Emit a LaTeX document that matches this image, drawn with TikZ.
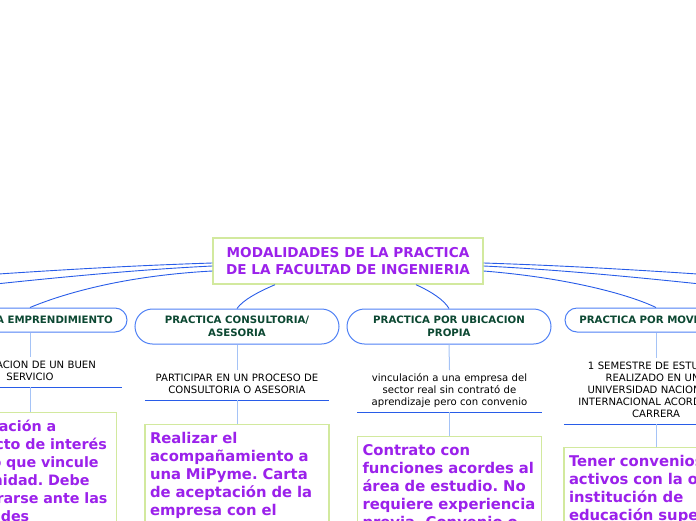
\documentclass[tikz,border=0pt]{standalone}
\usepackage{fontspec}
\setmainfont{DejaVu Sans}
\usetikzlibrary{shapes.misc}
\frenchspacing
\definecolor{linkblue}{RGB}{40,92,232}
\definecolor{rimblue}{RGB}{78,128,245}
\definecolor{stemblue}{RGB}{165,195,246}
\definecolor{leafgreen}{RGB}{210,233,158}
\definecolor{deepgreen}{RGB}{12,72,50}
\definecolor{plum}{RGB}{155,33,235}
\begin{document}
\begin{tikzpicture}[x=1pt, y=-1pt,
  hub/.style={draw=leafgreen, line width=1.4pt, fill=white, text=plum, align=center, font=\bfseries\fontsize{13.6}{17}\selectfont, minimum width=270pt, minimum height=46pt, inner sep=0pt},
  topic/.style={rounded rectangle, draw=rimblue, line width=1pt, fill=white, text=deepgreen, align=center, font=\bfseries\fontsize{10.2}{13}\selectfont, inner sep=0pt},
  detail/.style={anchor=north, align=center, text width=184pt, inner xsep=0pt, inner ysep=3pt, font=\fontsize{10.1}{12}\selectfont, execute at begin node=\strut, execute at end node=\strut},
  leaf/.style={draw=leafgreen, line width=1.4pt, fill=white, text=plum, align=left, font=\bfseries\fontsize{14.8}{18}\selectfont, inner xsep=5pt, inner ysep=6pt, execute at begin node=\strut, execute at end node=\strut},
  link/.style={draw=linkblue, line width=0.9pt},
  stem/.style={draw=stemblue, line width=1pt},
  rule/.style={draw=linkblue, line width=1.6pt}]
  \useasboundingbox (0,0) rectangle (696,520);
  \clip (0,0) rectangle (696,520);
  % centro
  \node[hub] (hub) at (348,261) {MODALIDADES DE LA PRACTICA\\DE LA FACULTAD DE INGENIERIA};
  % ramas
  \node[topic, minimum width=194pt, minimum height=24pt] (t1) at (30,320) {PRACTICA EMPRENDIMIENTO};
  \node[topic, minimum width=204pt, minimum height=35pt] (t2) at (237,326.5) {PRACTICA CONSULTORIA/\\ASESORIA};
  \node[topic, minimum width=204pt, minimum height=35pt] (t3) at (449,326.5) {PRACTICA POR UBICACION\\PROPIA};
  \node[topic, minimum width=182pt, minimum height=24pt] (t4) at (656,320) {PRACTICA POR MOVILIDAD};
  \coordinate (offL1) at (-60,278); \coordinate (offL2) at (-60,290);
  \coordinate (offR1) at (756,278); \coordinate (offR2) at (756,290);
  \draw[link] ([yshift=-2pt]hub.west) .. controls (120,266) and (40,271) .. (offL1);
  \draw[link] ([yshift=-5pt]hub.west) .. controls (130,270) and (40,279) .. (offL2);
  \draw[link] ([yshift=-10pt]hub.west) .. controls (120,276) and (60,295) .. (t1.north);
  \draw[link] ([xshift=-73pt]hub.south) .. controls (258,292) and (243,300) .. (t2.north);
  \draw[link] ([xshift=68pt]hub.south) .. controls (432,292) and (444,300) .. (t3.north);
  \draw[link] ([yshift=-10pt]hub.east) .. controls (570,278) and (630,295) .. (t4.north);
  \draw[link] ([yshift=-2pt]hub.east) .. controls (576,266) and (656,271) .. (offR1);
  \draw[link] ([yshift=-5pt]hub.east) .. controls (566,270) and (656,279) .. (offR2);
  % textos
  \node[detail] (d1) at (30,357) {INNOVACION DE UN BUEN\\SERVICIO};
  \node[detail] (d2) at (237,370) {PARTICIPAR EN UN PROCESO DE\\CONSULTORIA O ASESORIA};
  \node[detail] (d3) at (449.5,370) {vinculación a una empresa del\\sector real sin contrató de\\aprendizaje pero con convenio};
  \node[detail] (d4) at (656,358) {1 SEMESTRE DE ESTUDIOS\\REALIZADO EN UNA\\UNIVERSIDAD NACIONAL O\\INTERNACIONAL ACORDE A LA\\CARRERA};
  \foreach \d in {d1,d2,d3,d4} \draw[rule] (\d.south west) -- (\d.south east);
  % requisitos
  \node[leaf, anchor=north east, text width=162pt, font=\bfseries\fontsize{14.3}{18}\selectfont] (b1) at (117,412) {Vinculación a\\proyecto de interés\\propio que vincule\\comunidad. Debe\\registrarse ante las\\entidades};
  \node[leaf, anchor=north, text width=174pt] (b2) at (237,424) {Realizar el\\acompañamiento a\\una MiPyme. Carta\\de aceptación de la\\empresa con el};
  \node[leaf, anchor=north, text width=174pt] (b3) at (449.5,436) {Contrato con\\funciones acordes al\\área de estudio. No\\requiere experiencia\\previa. Convenio o};
  \node[leaf, anchor=north, text width=174pt] (b4) at (656,447) {Tener convenios\\activos con la otra\\institución de\\educación superior};
  \foreach \t/\d in {t1/d1,t2/d2,t3/d3,t4/d4} \draw[stem] (\t.south) -- (\d.north);
  \draw[stem] (d1.south) -- (d1.south |- b1.north);
  \foreach \d/\b in {d2/b2,d3/b3,d4/b4} \draw[stem] (\d.south) -- (\b.north);
\end{tikzpicture}
\end{document}
